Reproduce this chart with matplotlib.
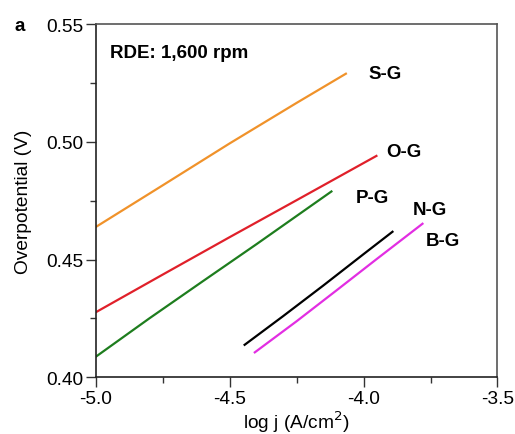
import matplotlib
matplotlib.use("Agg")
import matplotlib.pyplot as plt
from matplotlib.ticker import MultipleLocator, FormatStrFormatter

plt.rcParams['font.family'] = ['Liberation Sans', 'DejaVu Sans']

# Data (log j in A/cm^2, overpotential in V)
sg_x = [-5.00, -4.75, -4.50, -4.25, -4.066]
sg_y = [0.4638, 0.4815, 0.4993, 0.5165, 0.5289]
og_x = [-5.00, -4.75, -4.50, -4.25, -3.952]
og_y = [0.4276, 0.4436, 0.4595, 0.4752, 0.4940]
pg_x = [-5.00, -4.80, -4.60, -4.40, -4.120]
pg_y = [0.4087, 0.4250, 0.4408, 0.4565, 0.4789]
ng_x = [-4.444, -4.30, -4.15, -4.00, -3.892]
ng_y = [0.4138, 0.4260, 0.4390, 0.4523, 0.4618]
bg_x = [-4.406, -4.25, -4.10, -3.95, -3.780]
bg_y = [0.4106, 0.4238, 0.4370, 0.4503, 0.4652]

series = [
    (sg_x, sg_y, "#F0922A", "S-G", (-3.981, 0.5289)),
    (og_x, og_y, "#E0202A", "O-G", (-3.914, 0.4960)),
    (pg_x, pg_y, "#1E7D1E", "P-G", (-4.030, 0.4765)),
    (ng_x, ng_y, "#000000", "N-G", (-3.816, 0.4714)),
    (bg_x, bg_y, "#E22EE2", "B-G", (-3.767, 0.4579)),
]

fig = plt.figure(figsize=(5.15, 4.35), dpi=100)
ax = fig.add_axes([0.1858, 0.1303, 0.7802, 0.8122])

for x, y, c, lab, pos in series:
    ax.plot(x, y, color=c, lw=1.6)
    ax.text(pos[0], pos[1], lab, fontsize=13.5, fontweight='bold', ha='left', va='center')

ax.text(-4.946, 0.5381, "RDE: 1,600 rpm", fontsize=13.5, fontweight='bold', ha='left', va='center')
fig.text(0.028, 0.940, "a", fontsize=13.5, fontweight='bold', ha='left', va='center')

ax.set_xlim(-5.0, -3.5)
ax.set_ylim(0.40, 0.55)
ax.xaxis.set_major_locator(MultipleLocator(0.5))
ax.xaxis.set_minor_locator(MultipleLocator(0.25))
ax.yaxis.set_major_locator(MultipleLocator(0.05))
ax.yaxis.set_minor_locator(MultipleLocator(0.025))
ax.xaxis.set_major_formatter(FormatStrFormatter('%.1f'))
ax.yaxis.set_major_formatter(FormatStrFormatter('%.2f'))
ax.tick_params(which='both', direction='out', top=False, right=False, width=1.0, color='#333333', labelsize=13.8)
ax.tick_params(which='major', length=7, pad=2)
ax.tick_params(which='minor', length=4.5)

for s in ['left', 'bottom']:
    ax.spines[s].set_color('#222222')
    ax.spines[s].set_linewidth(1.2)
for s in ['top', 'right']:
    ax.spines[s].set_color('#555555')
    ax.spines[s].set_linewidth(1.2)

ax.set_xlabel("log j (A/cm$^2$)", fontsize=13.8, labelpad=1)
ax.set_ylabel("Overpotential (V)", fontsize=13.8, labelpad=10)

fig.savefig("out.png", dpi=100)
